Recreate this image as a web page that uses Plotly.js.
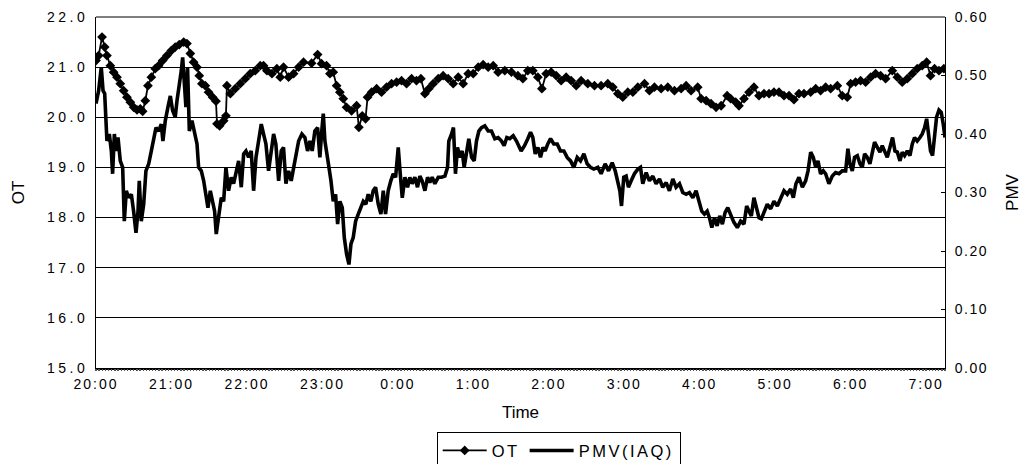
<!DOCTYPE html>
<html>
<head>
<meta charset="utf-8">
<script src="https://cdn.plot.ly/plotly-3.0.1.min.js"></script>
<style>
html,body{margin:0;padding:0;background:#fff;}
#chart{width:1022px;height:464px;}
.xtick text{letter-spacing:2px;}
.ytick text{letter-spacing:3.5px;}
.y2tick text{letter-spacing:1.5px;}
.legendtext{letter-spacing:2.5px;}
</style>
</head>
<body>
<div id="chart"></div>
<script>
// Minutes after 20:00
const otTime = [0,2.1,4.8,6.9,8.7,11.4,14.0,16.7,19.3,22.0,24.6,27.3,30.0,32.6,35.2,37.1,39.2,41.3,44.0,47.1,49.8,53.0,56.4,59.9,63.0,66.2,69.7,72.3,75.0,77.6,80.3,82.1,84.2,86.9,89.5,92.7,95.4,96.2,98.3,101.5,103.3,104.1,106.8,110.7,114.7,118.7,122.6,126.6,130.6,133.2,135.9,139.9,143.8,146.5,149.1,153.1,157.1,161.1,165.0,
  171.4,176.2,179.3,183.3,186.0,188.6,191.3,193.9,196.6,199.2,203.2,207.2,209.0,211.7,214.3,215.9,219.1,223.1,227.0,231.0,235.0,239.0,242.9,246.9,250.9,254.8,258.3,261.5,264.6,268.1,272.1,276.0,280.0,284.0,288.0,291.9,295.9,299.9,303.9,307.8,311.8,315.8,319.7,325.0,330.3,
  335.4,339.4,343.3,347.3,351.3,354.5,357.9,361.9,365.9,369.8,373.8,377.8,381.8,385.7,391.0,396.3,401.6,406.9,410.9,414.9,418.8,422.8,426.8,430.8,436.1,440.0,444.0,449.3,454.6,459.9,465.2,469.2,473.1,478.4,481.1,485.1,489.0,493.0,497.0,501.8,
  504.6,508.6,511.2,515.2,519.2,523.1,527.1,531.1,535.1,539.0,543.0,547.0,551.0,554.9,558.9,562.9,568.2,572.2,576.1,580.1,584.1,589.4,593.3,597.3,600.0,603.9,607.9,611.9,615.9,619.8,623.8,627.8,633.1,637.1,641.0,645.0,649.0,652.9,656.9,660.4,663.5,666.7,670.2,674.1];
const otValue = [21.13,21.23,21.60,21.40,21.23,21.03,20.90,20.80,20.67,20.53,20.40,20.30,20.20,20.15,20.17,20.12,20.33,20.63,20.80,20.97,21.03,21.13,21.23,21.33,21.40,21.45,21.50,21.47,21.27,21.10,21.00,20.83,20.67,20.63,20.50,20.40,20.32,19.87,19.83,19.93,20.03,20.63,20.47,20.57,20.67,20.77,20.87,20.93,21.03,21.03,20.93,20.87,20.97,20.80,21.00,20.80,20.87,21.00,21.10,
  21.08,21.25,21.07,21.03,20.87,20.90,20.63,20.50,20.37,20.20,20.13,20.23,19.80,20.03,19.97,20.40,20.50,20.57,20.50,20.60,20.67,20.70,20.73,20.67,20.77,20.73,20.77,20.47,20.57,20.67,20.77,20.83,20.77,20.67,20.80,20.67,20.87,20.87,21.00,21.05,21.00,21.03,20.90,20.93,20.90,
  20.83,20.77,20.93,20.93,20.80,20.57,20.87,20.90,20.83,20.73,20.80,20.73,20.63,20.73,20.67,20.63,20.63,20.67,20.60,20.47,20.40,20.50,20.50,20.60,20.67,20.53,20.60,20.57,20.60,20.53,20.57,20.63,20.53,20.60,20.37,20.33,20.27,20.20,20.23,20.43,
  20.37,20.30,20.23,20.37,20.50,20.60,20.43,20.47,20.47,20.50,20.50,20.43,20.43,20.35,20.47,20.47,20.50,20.57,20.53,20.60,20.57,20.63,20.43,20.40,20.67,20.70,20.73,20.70,20.80,20.87,20.83,20.77,20.93,20.80,20.70,20.77,20.87,20.97,21.03,21.10,20.83,20.97,20.93,20.97];

const pmvTime = [0,2.1,4.2,5.6,6.9,8.0,8.7,10.6,12.2,13.2,14.6,15.9,17.5,19.3,21.2,22.5,24.1,26.0,28.1,29.9,31.8,33.4,34.4,36.0,37.9,39.7,41.9,44.0,45.8,47.7,49.8,51.9,53.2,55.1,57.2,59.1,60.9,63.0,64.4,66.2,67.8,68.9,70.5,71.5,72.8,74.2,76.3,78.4,80.3,81.6,83.7,85.6,87.4,89.0,90.9,92.7,94.3,95.6,97.5,99.6,101.5,103.3,105.4,107.5,109.4,111.3,113.4,115.5,117.4,119.2,121.3,123.4,125.3,127.2,129.3,131.4,133.2,135.1,137.2,139.3,141.2,143.0,145.2,147.3,149.1,151.0,153.1,155.2,157.1,158.9,161.1,163.7,
  166.1,168.2,170.1,171.9,174.0,176.2,178.0,179.3,180.7,182.0,183.3,185.2,186.8,188.6,190.5,192.1,193.9,195.8,197.4,199.2,201.1,202.7,204.5,206.4,208.5,210.6,212.5,214.6,216.4,218.5,220.4,222.3,224.4,226.5,228.4,230.2,232.3,234.4,236.3,238.2,240.3,241.9,243.5,245.6,247.7,249.5,251.4,253.5,255.6,257.5,259.3,261.5,263.6,265.4,267.3,269.4,272.1,274.7,277.4,279.5,280.5,282.7,284.2,285.8,287.4,289.3,291.1,292.7,294.6,296.4,298.6,300.7,302.5,304.4,306.5,309.1,311.8,314.4,317.1,319.7,322.4,324.5,326.6,329.0,331.7,334.3,
  338.0,340.7,343.3,345.5,347.3,349.2,351.3,353.4,355.3,357.1,359.2,361.4,364.0,366.7,369.3,372.0,374.6,377.3,379.9,382.6,385.2,387.9,390.5,393.1,395.8,399.0,401.6,404.8,407.5,410.4,412.8,414.9,416.5,417.8,419.6,421.5,423.3,425.5,428.1,430.8,432.9,434.7,437.4,440.0,442.7,445.3,448.0,450.6,453.3,455.9,458.6,461.2,463.9,466.5,469.2,471.8,474.5,477.1,479.8,481.6,483.7,485.9,487.7,489.6,491.7,493.8,495.9,498.0,500.2,502.3,504.4,
  507.2,509.9,512.5,515.2,517.3,519.2,521.0,523.1,525.3,527.1,529.0,531.1,533.7,536.4,539.0,541.7,544.3,547.0,549.6,552.3,554.4,556.5,558.9,561.6,564.2,566.1,568.2,570.3,572.2,574.0,576.1,578.2,580.1,582.7,585.4,588.0,590.7,593.3,596.0,597.8,599.4,601.3,603.1,605.3,607.4,609.2,611.1,613.2,615.3,617.2,619.0,621.2,623.3,625.1,627.0,629.1,631.2,633.3,635.2,637.1,639.2,641.0,642.9,645.0,647.1,649.0,650.8,652.9,655.1,656.9,658.8,660.4,661.9,663.5,665.1,666.7,668.3,670.2,672.0,673.6,675.0];
const pmvValue = [0.452,0.474,0.514,0.474,0.469,0.417,0.388,0.400,0.371,0.332,0.400,0.371,0.394,0.354,0.343,0.251,0.303,0.291,0.297,0.268,0.231,0.268,0.320,0.251,0.280,0.337,0.349,0.371,0.394,0.411,0.405,0.417,0.388,0.423,0.446,0.465,0.440,0.429,0.457,0.480,0.508,0.531,0.480,0.446,0.514,0.405,0.423,0.400,0.383,0.343,0.337,0.320,0.291,0.274,0.303,0.280,0.268,0.229,0.263,0.291,0.285,0.343,0.303,0.326,0.315,0.337,0.354,0.309,0.366,0.371,0.360,0.371,0.303,0.360,0.394,0.417,0.400,0.383,0.337,0.371,0.400,0.383,0.320,0.371,0.377,0.315,0.337,0.320,0.343,0.360,0.388,0.400,
  0.394,0.371,0.388,0.371,0.405,0.411,0.360,0.400,0.435,0.388,0.366,0.343,0.320,0.285,0.297,0.246,0.285,0.274,0.223,0.195,0.177,0.212,0.223,0.251,0.263,0.274,0.285,0.280,0.297,0.285,0.303,0.309,0.280,0.263,0.303,0.263,0.303,0.320,0.332,0.326,0.377,0.332,0.291,0.326,0.309,0.326,0.315,0.326,0.309,0.328,0.320,0.303,0.326,0.317,0.326,0.315,0.326,0.326,0.328,0.343,0.388,0.400,0.411,0.332,0.377,0.360,0.371,0.343,0.371,0.392,0.360,0.354,0.388,0.405,0.411,0.414,0.405,0.405,0.392,0.394,0.388,0.380,0.394,0.392,0.397,0.388,
  0.371,0.380,0.392,0.403,0.394,0.366,0.377,0.360,0.377,0.371,0.383,0.392,0.383,0.383,0.371,0.371,0.360,0.354,0.343,0.360,0.354,0.366,0.349,0.343,0.340,0.343,0.332,0.349,0.337,0.351,0.337,0.320,0.303,0.277,0.326,0.328,0.309,0.320,0.332,0.340,0.343,0.315,0.334,0.320,0.328,0.315,0.323,0.309,0.317,0.303,0.323,0.309,0.315,0.300,0.297,0.300,0.291,0.303,0.285,0.268,0.263,0.268,0.257,0.240,0.257,0.243,0.260,0.246,0.266,0.274,0.263,
  0.249,0.240,0.251,0.246,0.277,0.268,0.260,0.291,0.272,0.257,0.255,0.268,0.280,0.272,0.285,0.277,0.291,0.303,0.297,0.306,0.291,0.315,0.326,0.309,0.320,0.337,0.369,0.360,0.343,0.354,0.332,0.337,0.332,0.315,0.328,0.334,0.332,0.337,0.337,0.375,0.349,0.337,0.360,0.363,0.349,0.343,0.366,0.360,0.349,0.366,0.386,0.377,0.369,0.380,0.371,0.360,0.377,0.394,0.371,0.369,0.354,0.369,0.363,0.371,0.363,0.383,0.394,0.388,0.394,0.400,0.411,0.426,0.400,0.371,0.363,0.405,0.429,0.441,0.437,0.417,0.394];

const tickMinutes = [0,60,120,180,240,300,360,420,480,540,600,660];
const tickLabels = ["20:00","21:00","22:00","23:00","0:00","1:00","2:00","3:00","4:00","5:00","6:00","7:00"];

const font = "Liberation Sans, Arial, sans-serif";

const traces = [
  {x: otTime, y: otValue, name: "OT", type: "scatter", mode: "lines+markers",
   line: {color: "#000", width: 1.8},
   marker: {symbol: "diamond", size: 7.5, color: "#000"}, yaxis: "y"},
  {x: pmvTime, y: pmvValue, name: "PMV(IAQ)", type: "scatter", mode: "lines",
   line: {color: "#000", width: 3.6}, yaxis: "y2"},
  // invisible helper on a category-tick axis so the dense tick band is drawn
  {x: [0, 675], y: [15, 15], xaxis: "x2", yaxis: "y", mode: "lines",
   line: {width: 0, color: "rgba(0,0,0,0)"}, showlegend: false, hoverinfo: "skip"}
];

const layout = {
  width: 1022, height: 464,
  margin: {l: 96, r: 77, t: 17, b: 96, autoexpand: false},
  paper_bgcolor: "#fff", plot_bgcolor: "#fff",
  font: {family: font, color: "#000", size: 14},
  showlegend: true,
  legend: {orientation: "h", x: 0.545, xanchor: "center", y: -0.183, yanchor: "top",
           bordercolor: "#000", borderwidth: 1, font: {size: 16.5, family: font},
           itemwidth: 44, tracegroupgap: 0},
  xaxis: {range: [0, 675], tickvals: tickMinutes, ticktext: tickLabels,
          showgrid: false, zeroline: false, showline: true, linecolor: "#000", linewidth: 1.5,
          ticks: "", tickfont: {size: 14},
          ticklabelstandoff: 3, automargin: false,
          title: {text: "Time", font: {size: 17}, standoff: 15}},
  xaxis2: {range: [0, 675], overlaying: "x", anchor: "y", side: "bottom",
           tickmode: "linear", tick0: 0, dtick: 2.5, ticks: "outside", ticklen: 2,
           tickcolor: "#555", tickwidth: 1.3, showticklabels: false, showgrid: false,
           zeroline: false, showline: false, automargin: false},
  yaxis: {range: [15, 22], dtick: 1, tickformat: ".1f", showgrid: true, gridcolor: "#000",
          gridwidth: 1, zeroline: false, showline: true, linecolor: "#000", linewidth: 1,
          ticks: "", tickfont: {size: 14}, ticklabelstandoff: 4, automargin: false,
          title: {text: "OT", font: {size: 17}, standoff: 18}},
  yaxis2: {range: [0, 0.6], dtick: 0.1, tickformat: ".2f", overlaying: "y", side: "right",
           showgrid: false, zeroline: false, showline: true, linecolor: "#000", linewidth: 1,
           ticks: "inside", ticklen: 4, tickcolor: "#000", tickfont: {size: 14},
           ticklabelstandoff: 6, automargin: false,
           title: {text: "PMV", font: {size: 17}, standoff: 20}},
  shapes: [{type: "line", xref: "paper", yref: "paper", x0: 0, x1: 1, y0: 1, y1: 1,
            line: {color: "#000", width: 1}}]
};

Plotly.newPlot("chart", traces, layout, {displayModeBar: false, staticPlot: true});
</script>
</body>
</html>
